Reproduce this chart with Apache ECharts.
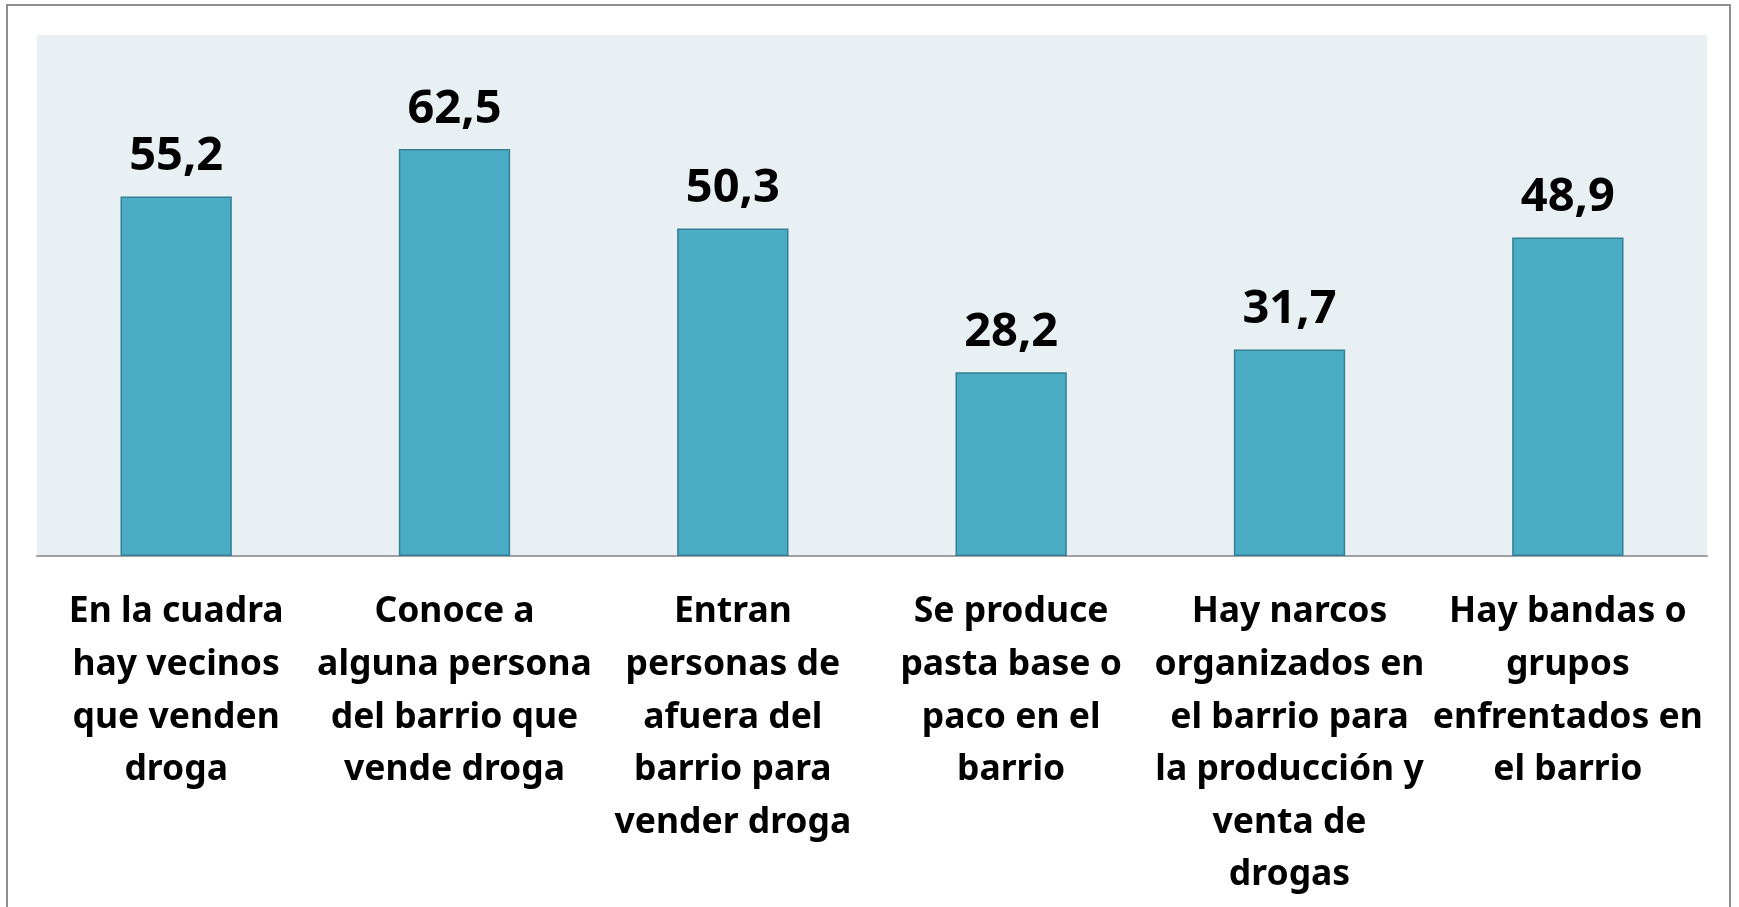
<!DOCTYPE html>
<html>
<head>
<meta charset="utf-8">
<title>Venta de droga en el barrio</title>
<script src="https://cdn.jsdelivr.net/npm/echarts@6/dist/echarts.min.js"></script>
<style>
  html, body { margin: 0; padding: 0; background: #ffffff; overflow: hidden; }
  .frame {
    position: absolute;
    left: 6px;
    top: 4px;
    width: 1725px;
    height: 960px;
    border: 2px solid #8e8e8e;
    box-sizing: border-box;
  }
  #chart { position: absolute; left: 0; top: 0; width: 1739px; height: 907px; }
</style>
</head>
<body>
<div class="frame"></div>
<div id="chart"></div>
<script>
  // categorias (con los saltos de linea del original)
  var categorias = [
    'En la cuadra\nhay vecinos\nque venden\ndroga',
    'Conoce a\nalguna persona\ndel barrio que\nvende droga',
    'Entran\npersonas de\nafuera del\nbarrio para\nvender droga',
    'Se produce\npasta base o\npaco en el\nbarrio',
    'Hay narcos\norganizados en\nel barrio para\nla producción y\nventa de\ndrogas',
    'Hay bandas o\ngrupos\nenfrentados en\nel barrio'
  ];
  var porcentajes = [55.2, 62.5, 50.3, 28.2, 31.7, 48.9];
  var ejeMin = 0;
  var ejeMax = 80;

  var chart = echarts.init(document.getElementById('chart'));
  chart.setOption({
    animation: false,
    grid: {
      left: 37,
      right: 32,
      top: 35,
      bottom: 351,
      show: true,
      backgroundColor: '#e8f0f4',
      borderWidth: 0
    },
    xAxis: {
      type: 'category',
      data: categorias,
      axisLine: { lineStyle: { color: '#a0a0a0', width: 2 } },
      axisTick: { show: false },
      axisLabel: {
        interval: 0,
        margin: 30,
        color: '#000000',
        fontFamily: 'Noto Sans',
        fontWeight: 'bold',
        fontSize: 35.5,
        lineHeight: 52.6,
        align: 'center'
      }
    },
    yAxis: {
      type: 'value',
      min: ejeMin,
      max: ejeMax,
      show: false,
      splitLine: { show: false }
    },
    series: [
      {
        type: 'bar',
        data: porcentajes,
        barWidth: '40%',
        itemStyle: {
          color: '#4bacc6',
          borderColor: '#357f93',
          borderWidth: 1.5
        },
        label: {
          show: true,
          position: 'top',
          distance: 16,
          color: '#000000',
          fontFamily: 'Noto Sans',
          fontWeight: 'bold',
          fontSize: 47,
          formatter: function (p) {
            return p.value.toFixed(1).replace('.', ',');
          }
        }
      }
    ]
  });
</script>
</body>
</html>
